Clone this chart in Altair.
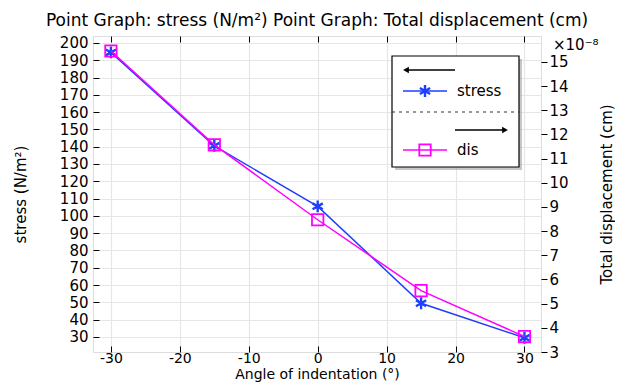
import altair as alt
import pandas as pd

# ---- data ----
angles = [-30, -15, 0, 15, 30]
stress = [194.5, 140.5, 105.5, 49.5, 29.5]
dis_e8 = [15.45, 11.57, 8.47, 5.54, 3.64]

x_ticks = [-30, -20, -10, 0, 10, 20, 30]
stress_ticks = list(range(30, 201, 10))
dis_ticks = list(range(3, 16))

title_text = "Point Graph: stress (N/m\u00b2)  Point Graph: Total displacement (cm)"
x_title = "Angle of indentation (\u00b0)"
yl_title = "stress (N/m\u00b2)"
yr_title = "Total displacement (cm)"
legend_names = ["stress", "dis"]

# ---- style ----
W, H = 448, 316
FONT = "DejaVu Sans"
FS = 15
TFS = 15
XFS = 14
BLUE = "#1f3fff"
MAG = "#ff00ff"
ASTERISK = "M0,-1L0,1M-0.866,-0.5L0.866,0.5M-0.866,0.5L0.866,-0.5"
HYPHEN_LABEL = "'' + datum.value"

df = pd.DataFrame({"angle": angles, "stress": stress, "dis": dis_e8})
one = pd.DataFrame({"k": [0]})

xscale = alt.Scale(domain=[-32.6, 32.4], nice=False, zero=False)
ylscale = alt.Scale(domain=[21.3, 204], nice=False, zero=False)
yrscale = alt.Scale(domain=[3, 16.07], nice=False, zero=False)

x_bottom = alt.Axis(orient="bottom", values=x_ticks, offset=-6, tickSize=6, domain=False,
                    labelPadding=-1, grid=True, gridColor="#e6e6e6", gridWidth=1.2,
                    labelExpr=HYPHEN_LABEL,
                    title=x_title, titlePadding=2, labelFontSize=XFS, titleFontSize=XFS,
                    titleFontWeight="normal", tickColor="black", labelColor="black",
                    titleColor="black")
x_top = alt.Axis(orient="top", values=x_ticks, offset=-6, tickSize=6, domain=False,
                 labels=False, grid=False, title=None, tickColor="black")
y_left = alt.Axis(orient="left", values=stress_ticks, offset=-6, tickSize=6, domain=False,
                  labelPadding=5, grid=True, gridColor="#e6e6e6", gridWidth=1.2,
                  title=yl_title, titlePadding=31, labelFontSize=FS, titleFontSize=TFS,
                  titleFontWeight="normal", tickColor="black", labelColor="black",
                  titleColor="black")
y_right = alt.Axis(orient="right", values=dis_ticks, tickSize=6, domain=False,
                   labelPadding=2, grid=False, title=yr_title, titlePadding=31,
                   titleAngle=270, titleBaseline="top", labelFontSize=FS, titleFontSize=TFS,
                   titleFontWeight="normal", tickColor="black", labelColor="black",
                   titleColor="black")

base = alt.Chart(df)

stress_line = base.mark_line(color=BLUE, strokeWidth=1.5).encode(
    x=alt.X("angle:Q", scale=xscale, axis=x_bottom),
    y=alt.Y("stress:Q", scale=ylscale, axis=y_left),
)
stress_pts = base.mark_point(shape=ASTERISK, size=140, color=BLUE, strokeWidth=2.4,
                             filled=False, opacity=1).encode(
    x=alt.X("angle:Q", scale=xscale, axis=x_bottom),
    y=alt.Y("stress:Q", scale=ylscale, axis=y_left),
)
left = alt.layer(stress_line, stress_pts)

dis_line = base.mark_line(color=MAG, strokeWidth=1.5).encode(
    x=alt.X("angle:Q", scale=xscale, axis=x_top),
    y=alt.Y("dis:Q", scale=yrscale, axis=y_right),
)
dis_pts = base.mark_point(shape="square", size=130, color=MAG, strokeWidth=1.8,
                          filled=False, opacity=1).encode(
    x=alt.X("angle:Q", scale=xscale, axis=x_top),
    y=alt.Y("dis:Q", scale=yrscale, axis=y_right),
)
right = alt.layer(dis_line, dis_pts)

# ---- hand-made legend box (COMSOL style) ----
lg = alt.Chart(one)
bx0, bx1, by0, by1 = 299, 426, 20, 131
shadow = lg.mark_rect(color="#999999", opacity=0.55).encode(
    x=alt.value(bx0 + 3), x2=alt.value(bx1 + 3), y=alt.value(by0 + 3), y2=alt.value(by1 + 3))
box = lg.mark_rect(fill="white", stroke="black", strokeWidth=1.2).encode(
    x=alt.value(bx0), x2=alt.value(bx1), y=alt.value(by0), y2=alt.value(by1))
arrow_l = lg.mark_rule(color="black", strokeWidth=1.5).encode(
    x=alt.value(314), x2=alt.value(362), y=alt.value(34))
arrow_l_head = lg.mark_point(shape="triangle-left", size=45, color="black", filled=True,
                             opacity=1).encode(x=alt.value(313), y=alt.value(34))
leg_s_line = lg.mark_rule(color=BLUE, strokeWidth=1.5).encode(
    x=alt.value(310), x2=alt.value(354), y=alt.value(55))
leg_s_pt = lg.mark_point(shape=ASTERISK, size=140, color=BLUE, strokeWidth=2.4,
                         filled=False, opacity=1).encode(x=alt.value(332), y=alt.value(55))
leg_s_txt = lg.mark_text(text=legend_names[0], align="left", baseline="middle", font=FONT,
                         fontSize=FS, color="black").encode(x=alt.value(364), y=alt.value(55))
divider = lg.mark_rule(color="#333333", strokeWidth=1.2, strokeDash=[3, 4]).encode(
    x=alt.value(bx0), x2=alt.value(bx1), y=alt.value(76))
arrow_r = lg.mark_rule(color="black", strokeWidth=1.5).encode(
    x=alt.value(362), x2=alt.value(411), y=alt.value(94))
arrow_r_head = lg.mark_point(shape="triangle-right", size=45, color="black", filled=True,
                             opacity=1).encode(x=alt.value(412), y=alt.value(94))
leg_d_line = lg.mark_rule(color=MAG, strokeWidth=1.5).encode(
    x=alt.value(310), x2=alt.value(354), y=alt.value(114))
leg_d_pt = lg.mark_point(shape="square", size=130, color=MAG, strokeWidth=1.8,
                         filled=False, opacity=1).encode(x=alt.value(332), y=alt.value(114))
leg_d_txt = lg.mark_text(text=legend_names[1], align="left", baseline="middle", font=FONT,
                         fontSize=FS, color="black").encode(x=alt.value(364), y=alt.value(114))
exponent = lg.mark_text(text="\u00d710\u207b\u2078", align="left", baseline="middle",
                        font=FONT, fontSize=FS, color="black").encode(
    x=alt.value(460), y=alt.value(9))

legend = alt.layer(shadow, box, arrow_l, arrow_l_head, leg_s_line, leg_s_pt, leg_s_txt,
                   divider, arrow_r, arrow_r_head, leg_d_line, leg_d_pt, leg_d_txt, exponent)

chart = alt.layer(left, right, legend).resolve_scale(
    y="independent"
).resolve_axis(
    x="independent", y="independent"
).properties(
    width=W, height=H,
    title=alt.TitleParams(title_text, font=FONT, fontSize=17, fontWeight="normal",
                          anchor="middle", color="black", offset=6),
    autosize=alt.AutoSizeParams(type="none"),
    padding={"left": 85, "top": 28, "right": 74, "bottom": 30},
).configure_view(
    stroke="black", strokeWidth=1.4
).configure(
    font=FONT
).configure_axis(
    labelFont=FONT, titleFont=FONT
)

chart.save("out.html", embed_options={"renderer": "svg", "actions": False})
